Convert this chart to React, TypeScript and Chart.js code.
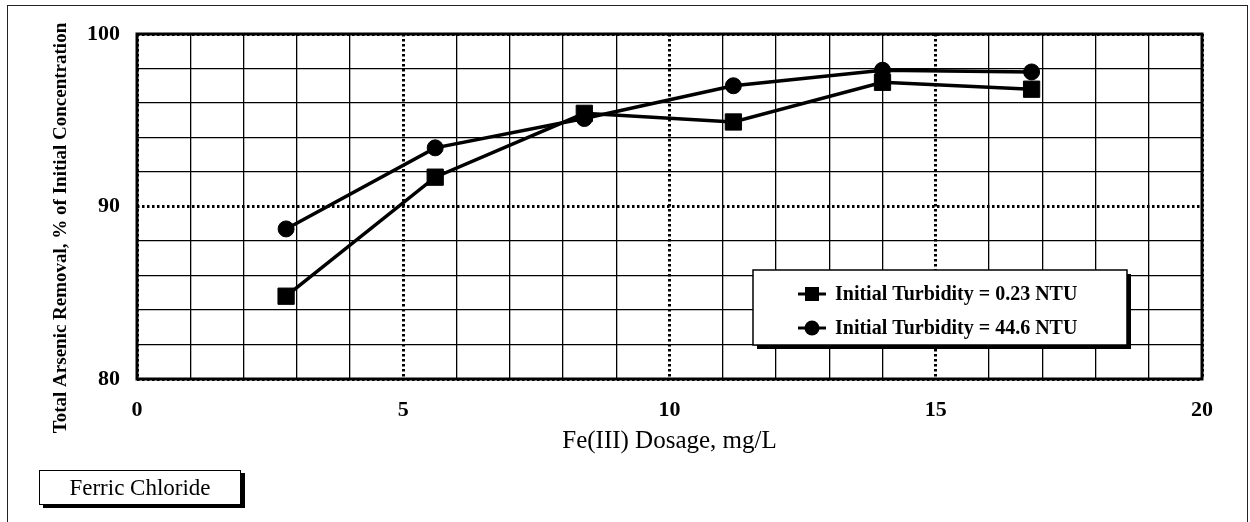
import React, { useEffect, useRef } from "react";
import { Chart, registerables } from "chart.js";

Chart.register(...registerables);

const dosage = [2.8, 5.6, 8.4, 11.2, 14, 16.8];
const removalLowTurbidity = [84.8, 91.7, 95.4, 94.9, 97.2, 96.8];
const removalHighTurbidity = [88.7, 93.4, 95.1, 97.0, 97.9, 97.8];
const seriesLabels = ["Initial Turbidity = 0.23 NTU", "Initial Turbidity = 44.6 NTU"];
const xTickLabels = [0, 5, 10, 15, 20];
const yTickLabels = [80, 90, 100];
const xTitle = "Fe(III) Dosage, mg/L";
const yTitle = "Total Arsenic Removal, % of Initial Concentration";
const boxNote = "Ferric Chloride";

const FONT = '"Liberation Serif", "Times New Roman", serif';

const framePlugin = {
  id: "frame",
  beforeDatasetsDraw(chart: any) {
    const { ctx, chartArea: a } = chart;
    ctx.save();
    ctx.strokeStyle = "#000";
    ctx.lineWidth = 3;
    ctx.strokeRect(a.left, a.top, a.right - a.left, a.bottom - a.top);
    ctx.restore();
  },
};

const yTitlePlugin = {
  id: "yTitle",
  afterDraw(chart: any) {
    const { ctx } = chart;
    ctx.save();
    ctx.translate(61, 228);
    ctx.rotate(-Math.PI / 2);
    ctx.font = `bold 19px ${FONT}`;
    ctx.fillStyle = "#000";
    ctx.textAlign = "center";
    ctx.textBaseline = "middle";
    ctx.fillText(yTitle, 0, 0);
    ctx.restore();
  },
};

const legendPlugin = {
  id: "boxLegend",
  afterDraw(chart: any) {
    const { ctx } = chart;
    const x0 = 753, y0 = 270, w = 374, h = 75;
    ctx.save();
    ctx.fillStyle = "#000";
    ctx.fillRect(x0 + 4, y0 + 4, w, h);
    ctx.fillStyle = "#fff";
    ctx.fillRect(x0, y0, w, h);
    ctx.strokeStyle = "#000";
    ctx.lineWidth = 1.5;
    ctx.strokeRect(x0, y0, w, h);
    const rows = [294, 328];
    chart.data.datasets.forEach((ds: any, i: number) => {
      const y = rows[i];
      ctx.strokeStyle = "#000";
      ctx.lineWidth = 3;
      ctx.beginPath();
      ctx.moveTo(798, y);
      ctx.lineTo(826, y);
      ctx.stroke();
      ctx.fillStyle = "#000";
      if (ds.pointStyle === "rect") {
        ctx.fillRect(812 - 7, y - 7, 14, 14);
      } else {
        ctx.beginPath();
        ctx.arc(812, y, 7.5, 0, Math.PI * 2);
        ctx.fill();
      }
      ctx.font = `bold 20px ${FONT}`;
      ctx.textAlign = "left";
      ctx.textBaseline = "middle";
      ctx.fillText(ds.label, 835, y + 1);
    });
    ctx.restore();
  },
};

const isMajorX = (c: any) => c.tick && c.tick.value % 5 === 0;
const isMajorY = (c: any) => c.tick && c.tick.value % 10 === 0;

export default function App() {
  const ref = useRef<HTMLCanvasElement | null>(null);

  useEffect(() => {
    if (!ref.current) return;
    const chart = new Chart(ref.current, {
      type: "scatter",
      data: {
        datasets: [
          {
            label: seriesLabels[0],
            data: dosage.map((x, i) => ({ x, y: removalLowTurbidity[i] })),
            showLine: true,
            borderColor: "#000",
            borderWidth: 3.5,
            backgroundColor: "#000",
            pointStyle: "rect",
            pointRadius: 11.5,
            pointBorderWidth: 1,
            tension: 0,
          },
          {
            label: seriesLabels[1],
            data: dosage.map((x, i) => ({ x, y: removalHighTurbidity[i] })),
            showLine: true,
            borderColor: "#000",
            borderWidth: 3.5,
            backgroundColor: "#000",
            pointStyle: "circle",
            pointRadius: 8,
            pointBorderWidth: 1,
            tension: 0,
          },
        ],
      },
      options: {
        animation: false,
        responsive: false,
        devicePixelRatio: 1,
        layout: { padding: { top: 34, left: 0, right: 48, bottom: 0 } },
        plugins: { legend: { display: false }, tooltip: { enabled: false } },
        scales: {
          x: {
            type: "linear",
            min: 0,
            max: 20,
            afterFit: (s: any) => {
              s.height = 143;
            },
            border: {
              display: false,
              dash: (c: any) => (isMajorX(c) ? [2.5, 2.5] : []),
            },
            grid: {
              drawTicks: false,
              color: "#000",
              lineWidth: (c: any) => (isMajorX(c) ? 3 : 1.3),
            },
            ticks: {
              stepSize: 1,
              autoSkip: false,
              maxRotation: 0,
              padding: 18,
              color: "#000",
              font: { family: FONT, size: 22, weight: "bold" },
              callback: (v: any) => (xTickLabels.includes(Number(v)) ? String(v) : ""),
            },
            title: {
              display: true,
              text: xTitle,
              color: "#000",
              font: { family: FONT, size: 25 },
              padding: { top: 0, bottom: 66 },
            },
          },
          y: {
            type: "linear",
            min: 80,
            max: 100,
            afterFit: (s: any) => {
              s.width = 137;
            },
            border: {
              display: false,
              dash: (c: any) => (isMajorY(c) ? [2.5, 2.5] : []),
            },
            grid: {
              drawTicks: false,
              color: "#000",
              lineWidth: (c: any) => (isMajorY(c) ? 3 : 1.3),
            },
            ticks: {
              stepSize: 2,
              padding: 17,
              color: "#000",
              font: { family: FONT, size: 22, weight: "bold" },
              callback: (v: any) => (yTickLabels.includes(Number(v)) ? String(v) : ""),
            },
          },
        },
      },
      plugins: [framePlugin, legendPlugin, yTitlePlugin],
    } as any);
    return () => chart.destroy();
  }, []);

  return (
    <div style={{ position: "relative", width: 1250, height: 522, overflow: "hidden", background: "#fff" }}>
      <style>{`body{margin:0}`}</style>
      <canvas ref={ref} width={1250} height={522} style={{ display: "block" }} />
      <div
        style={{
          position: "absolute",
          left: 7,
          top: 5,
          width: 1239,
          height: 540,
          border: "1.5px solid #222",
          pointerEvents: "none",
        }}
      />
      <div
        style={{
          position: "absolute",
          left: 39,
          top: 470,
          width: 200,
          height: 33,
          border: "1.5px solid #000",
          boxShadow: "4px 3px 0 #000",
          background: "#fff",
          fontFamily: FONT,
          fontSize: 23,
          lineHeight: "33px",
          textAlign: "center",
          color: "#000",
        }}
      >
        {boxNote}
      </div>
    </div>
  );
}
